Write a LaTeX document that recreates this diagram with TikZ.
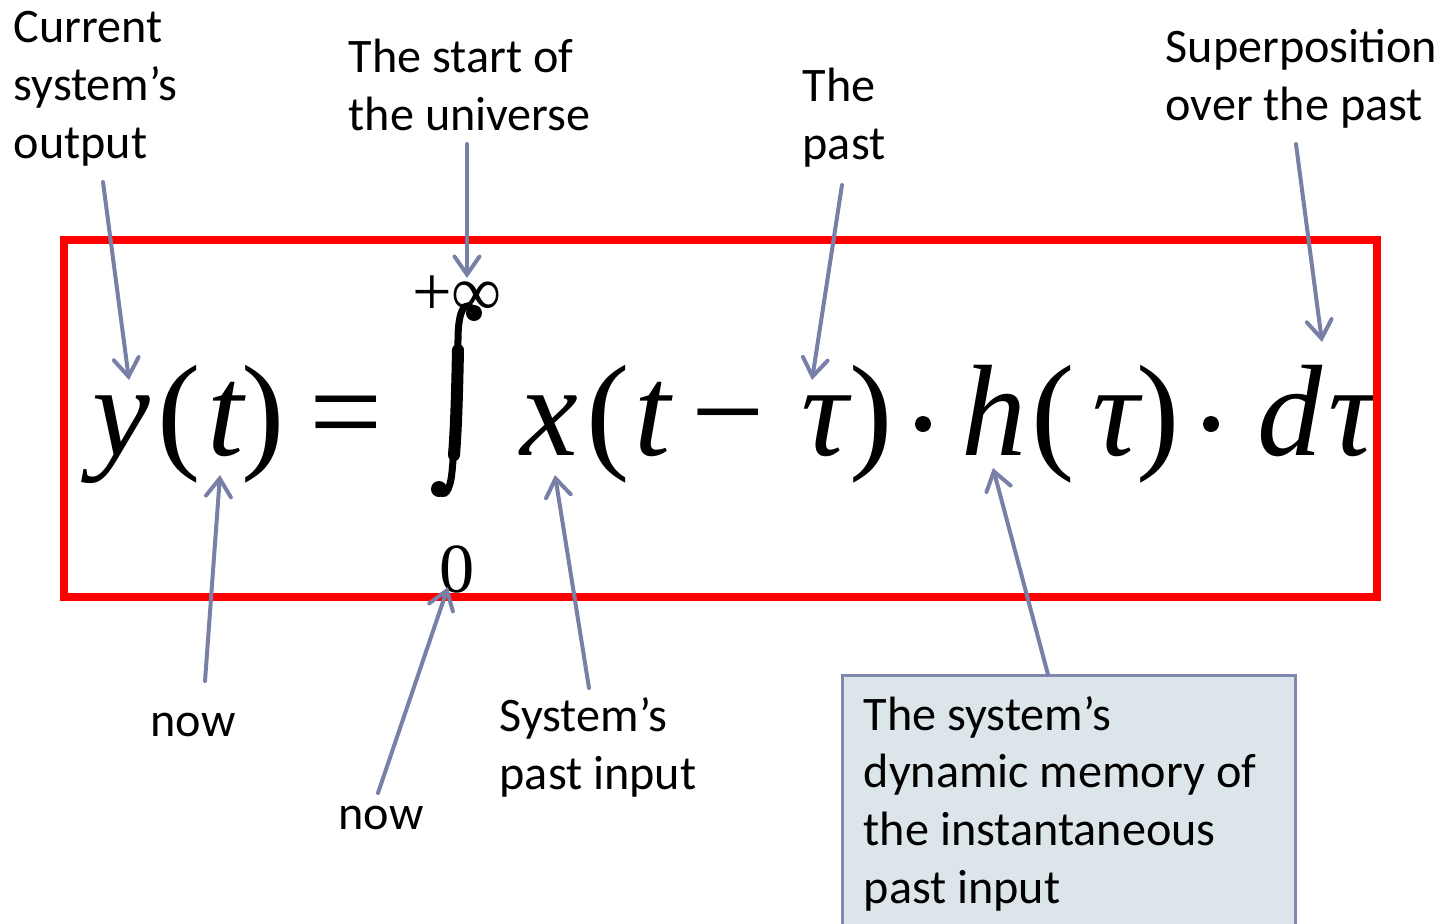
\documentclass[tikz,border=0pt]{standalone}
\usepackage{fontspec}
\setmainfont{Carlito}
\newfontfamily\eqfont{Liberation Serif}
\usetikzlibrary{arrows.meta}
\definecolor{PtrBlue}{HTML}{7880A8}
\definecolor{MemFill}{HTML}{DCE6EA}
\definecolor{MemLine}{HTML}{8088B0}
\definecolor{FrameRed}{HTML}{FF0000}
\tikzset{
  lbl/.style={anchor=base west,inner sep=0pt,align=left,font=\fontsize{13.7}{16.4}\selectfont},
  glyph/.style={anchor=base,inner sep=0pt,font=\eqfont\itshape\fontsize{37}{37}\selectfont},
  upglyph/.style={anchor=base,inner sep=0pt,font=\eqfont\fontsize{37}{37}\selectfont},
  limit/.style={anchor=base,inner sep=0pt,font=\eqfont\fontsize{20}{20}\selectfont},
  mdot/.style={circle,fill=black,inner sep=0pt,minimum size=0.16cm},
  membox/.style={draw=MemLine,fill=MemFill,line width=0.03cm,anchor=north west,outer sep=0pt,
    minimum width=4.53cm,minimum height=3cm},
  pointer/.style={draw=PtrBlue,line width=0.04cm,line cap=round,
    -{Straight Barb[length=0.18cm,width=0.25cm,line cap=round]}}
}
\begin{document}
\begin{tikzpicture}[x=0.01cm,y=-0.01cm]
\useasboundingbox (0,0) rectangle (1441,923);
% the equation
\begin{scope}
\clip (0,0) rectangle (1376,923);
\node[glyph] (gy) at (121,455) {y};
\node[upglyph] (lp1) at (179,455) {(};
\node[glyph] (gt1) at (226,455) {t};
\node[upglyph] (rp1) at (263,455) {)};
\node[upglyph] (geq) at (346,455) {=};
% integral sign
\draw[line width=0.07cm,line cap=round] (473,310) .. controls (466,300) and (458,308) .. (458,340)
  .. controls (457,400) and (455,440) .. (452,472) .. controls (450,492) and (444,498) .. (439,490);
\draw[line width=0.12cm,line cap=round] (458,350) .. controls (457,400) and (456,430) .. (454,455);
\fill (474,313) circle (0.08cm) (439,489) circle (0.08cm);
\node[limit] (upper) at (457,315) {+∞};
\node[limit] (lower) at (457,592) {0};
\node[glyph] (gx) at (549,455) {x};
\node[upglyph] (lp2) at (608,455) {(};
\node[glyph] (gt2) at (653,455) {t};
\node[upglyph] (gmin) at (728,455) {\char"2212};
\node[glyph] (gtau1) at (825,455) {τ};
\node[upglyph] (rp2) at (871,455) {)};
\node[mdot] (dot1) at (923,424) {};
\node[glyph] (gh) at (994,455) {h};
\node[upglyph] (lp3) at (1053,455) {(};
\node[glyph] (gtau2) at (1116,455) {τ};
\node[upglyph] (rp3) at (1158,455) {)};
\node[mdot] (dot2) at (1211,424) {};
\node[glyph] (gd) at (1290,455) {d};
\node[glyph] (gtau3) at (1352,455) {τ};
\end{scope}
\node[draw=FrameRed,line width=0.08cm,anchor=north west,inner sep=0pt,outer sep=0pt,
  minimum width=13.12cm,minimum height=3.57cm] (frame) at (64,240) {};
% labels (multi-line: base is the last line)
\node[lbl] (output) at (13,158) {Current\\system’s\\output};
\node[lbl] (start) at (348,130) {The start of\\the universe};
\node[lbl] (past) at (802,159) {The\\past};
\node[lbl] (superpos) at (1165,120) {Superposition\\over the past};
\node[lbl] (now1) at (150,736) {now};
\node[lbl] (now2) at (338,829) {now};
\node[lbl] (input) at (499,789) {System’s\\past input};
\node[membox] (memory) at (842,675) {};
\node[lbl] (memtext) at (863,903) {The system’s\\dynamic memory of\\the instantaneous\\past input};
% arrow tips
\coordinate (ptr-y) at (129,380);
\coordinate (ptr-inf) at (467,278);
\coordinate (ptr-tau) at (812,380);
\coordinate (ptr-dtau) at (1322,342);
\coordinate (ptr-t) at (220,475);
\coordinate (ptr-zero) at (448,587);
\coordinate (ptr-x) at (555,475);
\coordinate (ptr-h) at (993,468);
\draw[pointer] ([shift={(90,24)}]output.base west) -- (ptr-y);
\draw[pointer] ([shift={(119,14)}]start.base west) -- (ptr-inf);
\draw[pointer] ([shift={(40,26)}]past.base west) -- (ptr-tau);
\draw[pointer] ([shift={(131,24)}]superpos.base west) -- (ptr-dtau);
\draw[pointer] ([shift={(55,-55)}]now1.base west) -- (ptr-t);
\draw[pointer] ([shift={(40,-36)}]now2.base west) -- (ptr-zero);
\draw[pointer] ([shift={(90,-101)}]input.base west) -- (ptr-x);
\draw[pointer] ([shift={(-20.5,0)}]memory.north) -- (ptr-h);
\end{tikzpicture}
\end{document}
